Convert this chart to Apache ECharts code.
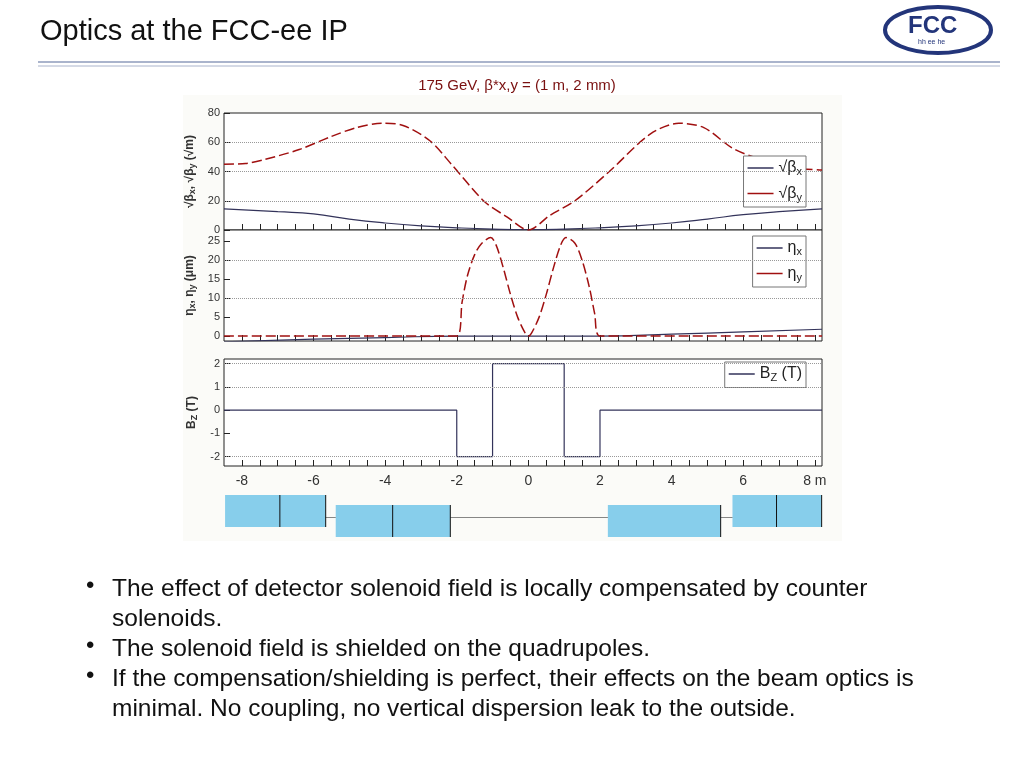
<!DOCTYPE html>
<html><head><meta charset="utf-8">
<script src="https://cdn.jsdelivr.net/npm/echarts@6/dist/echarts.min.js"></script>
<style>body{margin:0;background:#fff}#c{width:1024px;height:768px}</style>
</head><body><div id="c"></div>
<script>
// optics along s (m)
var betaX = [[-8.5,14.5],[-7,12.5],[-6,11],[-5,7.5],[-4,4.8],[-3,2.8],[-2,1.5],[-1,0.6],[0,0.2],[1,0.6],[2,1.5],[3,2.8],[4,4.8],[5,7.5],[6,10.5],[7,12.5],[8.2,14.5]];
var betaY = [[-8.5,45],[-7.9,45.5],[-7.4,48],[-6.4,55],[-5.5,64],[-4.8,70],[-4.1,73],[-3.5,71.5],[-2.75,61],[-2.15,45],[-1.23,19.5],[-0.6,9],[0,0],[0.6,10],[1.3,20],[2.26,40],[3.4,65.5],[4.2,73],[4.9,70],[5.7,56],[6.4,49],[7.1,45],[7.6,42],[8.2,41]];
var etaX = [[-8.5,-1.5],[-6,-0.8],[-4,-0.4],[-2,0],[2,0],[4,0.5],[6,1.1],[8.2,1.8]];
var etaY = [[-8.5,0],[-2,0],[-1.85,9],[-1.7,16],[-1.5,21.5],[-1.3,24.5],[-1.05,26],[-0.9,24],[-0.7,18],[-0.5,11],[-0.3,5],[-0.1,1],[0,0],[0.1,1],[0.3,5],[0.5,11],[0.7,18],[0.9,24],[1.05,26],[1.3,24.5],[1.5,20],[1.7,13],[1.85,6],[2,0],[8.2,0]];
var bz = [[-8.5,0],[-2,0],[-2,-2],[-1,-2],[-1,2],[1,2],[1,-2],[2,-2],[2,0],[8.2,0]];
// magnet boxes: [s start, s end, top, bottom, divider or null]
var magnets = [[-8.47,-5.66,5,37,-6.94],[-5.38,-2.18,15,47,-3.79],[2.22,5.37,15,47,null],[5.7,8.19,5,37,6.93]];
var beamLine = [[-5.66,-5.38],[-2.18,2.22],[5.37,5.7]];
var xLabels = [-8,-6,-4,-2,0,2,4,6,8];
var xTicks = [-8,-7.5,-7,-6.5,-6,-5.5,-5,-4.5,-4,-3.5,-3,-2.5,-2,-1.5,-1,-0.5,0,0.5,1,1.5,2,2.5,3,3.5,4,4.5,5,5.5,6,6.5,7,7.5,8];
var betaTicks = [0,20,40,60,80], betaGrid = [20,40,60];
var etaTicks = [0,5,10,15,20,25], etaGrid = [10,20];
var bzTicks = [-2,-1,0,1,2], bzGrid = [2,1,-2];
var bullets = ['The effect of detector solenoid field is locally compensated by counter\nsolenoids.', 'The solenoid field is shielded on the quadrupoles.', 'If the compensation/shielding is perfect, their effects on the beam optics is\nminimal. No coupling, no vertical dispersion leak to the outside.'];

var navy = '#33335a', red = '#a01010';
var rich = {s:{fontSize:9,verticalAlign:'bottom',padding:[6,0,0,0]}};
function xa(i, lab) {
  return {gridIndex:i, type:'value', min:-8.5, max:8.2,
    axisLine:{show:false, onZero:false},
    axisTick:{show:i<3, inside:true, length:6, customValues:xTicks, lineStyle:{color:'#222'}},
    axisLabel:{show:lab, customValues:xLabels, color:'#333', fontSize:14,
      formatter:function(v){return v===8?'8 m':String(v);}},
    splitLine:{show:false}};
}
function ya(i, min, max, ticks, name) {
  return {gridIndex:i, type:'value', min:min, max:max,
    name:name, nameLocation:'middle', nameGap:22, nameRotate:90,
    nameTextStyle:{fontSize:12, fontWeight:'bold', color:'#333', rich:rich},
    axisLine:{show:false, onZero:false},
    axisTick:{inside:true, length:6, customValues:ticks, lineStyle:{color:'#222'}},
    axisLabel:{customValues:ticks, fontSize:11, color:'#333', margin:4},
    splitLine:{show:false}};
}
function gl(vals) {
  return {silent:true, symbol:'none', label:{show:false},
    lineStyle:{type:'dotted', color:'#999', width:1},
    data:vals.map(function(v){return {yAxis:v};})};
}
function leg(top, names) {
  return {top:top, right:218, orient:'vertical', itemGap:8, itemWidth:26, itemHeight:1.5, icon:'rect',
    backgroundColor:'#fff', borderColor:'#777', borderWidth:1, padding:[4,4],
    data:names, textStyle:{fontSize:16, color:'#222', rich:{s:{fontSize:11, verticalAlign:'bottom', padding:[8,0,0,0]}}},
    formatter:function(n){return n.replace(/_(\w+)/,'{s|$1}');}};
}
var gfx = [
  {type:'rect', shape:{x:183,y:95,width:659,height:446}, style:{fill:'#fbfbf8'}, z:-10},
  {type:'text', left:40, top:17, style:{text:'Optics at the FCC-ee IP', fontSize:29, fill:'#111', fontFamily:'Liberation Sans'}},
  {type:'line', shape:{x1:38,y1:62,x2:1000,y2:62}, style:{stroke:'#aab4cc', lineWidth:2}},
  {type:'line', shape:{x1:38,y1:66,x2:1000,y2:66}, style:{stroke:'#aab4cc', lineWidth:1}},
  {type:'ellipse', shape:{cx:938,cy:30,rx:53,ry:23}, style:{fill:'#fff', stroke:'#23357a', lineWidth:4}},
  {type:'text', left:908, top:14, style:{text:'FCC', fontSize:24, fill:'#23357a', fontFamily:'Liberation Sans', fontWeight:'bold'}},
  {type:'text', left:918, top:39, style:{text:'hh ee he', fontSize:7, fill:'#23357a', fontFamily:'Liberation Sans'}}
];
var by = 574;
bullets.forEach(function(b){
  gfx.push({type:'text', left:86, top:by, style:{text:'•', fontSize:24, fill:'#111', fontFamily:'Liberation Sans'}});
  gfx.push({type:'text', left:112, top:by, style:{text:b, fontSize:24.5, lineHeight:30, fill:'#111', fontFamily:'Liberation Sans'}});
  by += 30 * b.split('\n').length;
});
var chart = echarts.init(document.getElementById('c'));
chart.setOption({
  animation:false,
  title:{text:'175 GeV, β*x,y = (1 m, 2 mm)', left:512, top:73, textAlign:'center',
    textStyle:{fontSize:15, fontWeight:'normal', color:'#7a1010', fontFamily:'Liberation Sans'}},
  graphic:gfx,
  legend:[leg(156,['√β_x','√β_y']), leg(236,['η_x','η_y']), leg(362,['B_Z (T)'])],
  grid:[
    {left:224, right:202, top:113, height:117, show:true, borderColor:'#222', backgroundColor:'#fff'},
    {left:224, right:202, top:230, height:111, show:true, borderColor:'#222', backgroundColor:'#fff'},
    {left:224, right:202, top:359, height:107, show:true, borderColor:'#222', backgroundColor:'#fff'},
    {left:224, right:202, top:490, height:50}
  ],
  xAxis:[xa(0,false), xa(1,false), xa(2,true), {gridIndex:3, type:'value', min:-8.5, max:8.2, show:false}],
  yAxis:[
    ya(0,0,80,betaTicks,'√β{s|x}, √β{s|y} (√m)'),
    ya(1,-1.3,28,etaTicks,'η{s|x}, η{s|y} (μm)'),
    ya(2,-2.4,2.2,bzTicks,'B{s|Z} (T)'),
    {gridIndex:3, type:'value', min:0, max:50, inverse:true, show:false}
  ],
  series:[
    {name:'√β_x', type:'line', xAxisIndex:0, yAxisIndex:0, data:betaX, smooth:true, symbol:'none', lineStyle:{color:navy, width:1.2}, itemStyle:{color:navy}, markLine:gl(betaGrid)},
    {name:'√β_y', type:'line', xAxisIndex:0, yAxisIndex:0, data:betaY, smooth:0.3, symbol:'none', lineStyle:{color:red, width:1.5, type:[10,4]}, itemStyle:{color:red}},
    {name:'η_x', type:'line', xAxisIndex:1, yAxisIndex:1, data:etaX, smooth:true, symbol:'none', lineStyle:{color:navy, width:1.2}, itemStyle:{color:navy}, markLine:gl(etaGrid)},
    {name:'η_y', type:'line', xAxisIndex:1, yAxisIndex:1, data:etaY, smooth:0.3, symbol:'none', lineStyle:{color:red, width:1.5, type:[10,4]}, itemStyle:{color:red}},
    {name:'B_Z (T)', type:'line', xAxisIndex:2, yAxisIndex:2, data:bz, symbol:'none', lineStyle:{color:navy, width:1.2}, itemStyle:{color:navy}, markLine:gl(bzGrid)},
    {type:'custom', xAxisIndex:3, yAxisIndex:3, silent:true,
      data:magnets.map(function(m,i){return [i].concat(m);}),
      renderItem:function(p, api){
        var a = api.coord([api.value(1), api.value(3)]), b = api.coord([api.value(2), api.value(4)]);
        var ch = [{type:'rect', shape:{x:a[0], y:a[1], width:b[0]-a[0], height:b[1]-a[1]}, style:{fill:'#87ceeb'}}];
        var d = magnets[api.value(0)][4];
        if (d !== null) { var c = api.coord([d, 0]); ch.push({type:'line', shape:{x1:c[0], y1:a[1], x2:c[0], y2:b[1]}, style:{stroke:'#111', lineWidth:1}}); }
        ch.push({type:'line', shape:{x1:b[0], y1:a[1], x2:b[0], y2:b[1]}, style:{stroke:'#111', lineWidth:1}});
        return {type:'group', children:ch};
      }},
    {type:'lines', coordinateSystem:'cartesian2d', xAxisIndex:3, yAxisIndex:3, silent:true,
      data:beamLine.map(function(s){return {coords:[[s[0],27],[s[1],27]]};}),
      lineStyle:{color:'#111', width:1}}
  ]
});
</script></body></html>
